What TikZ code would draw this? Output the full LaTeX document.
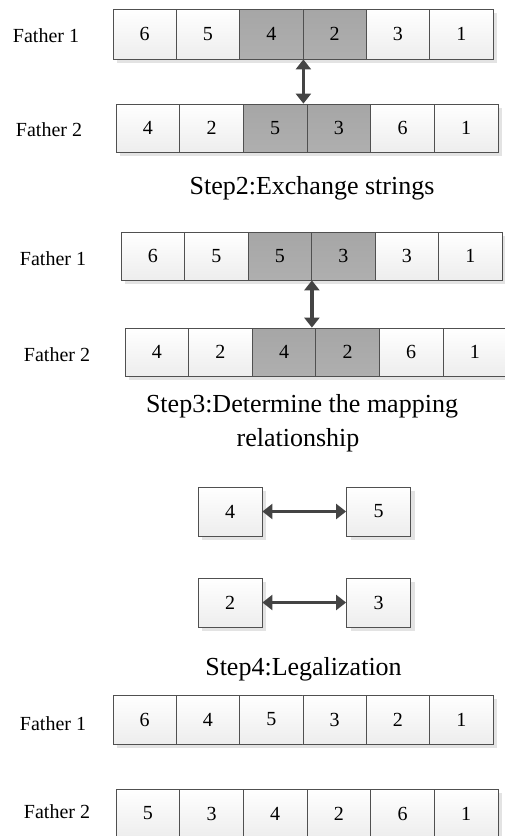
\documentclass[tikz,border=0pt]{standalone}
\usepackage{fontspec}
\setmainfont{Liberation Serif}
\usetikzlibrary{shadows,arrows.meta}
\definecolor{edgegray}{HTML}{505050}
\definecolor{darkcell}{HTML}{A6A6A6}
\definecolor{arrowgray}{HTML}{444444}
\tikzset{
  cellbase/.style={draw=edgegray, line width=0.8pt, inner sep=0pt,
    font=\fontsize{20}{22}\selectfont,
    drop shadow={shadow xshift=4pt, shadow yshift=-4pt, fill=gray!22, opacity=1}},
  wcell/.style={cellbase, top color=white, bottom color=gray!14},
  gcell/.style={cellbase, top color=darkcell, bottom color=darkcell!90!white},
  rowlabel/.style={font=\fontsize{20}{22}\selectfont, inner sep=0pt, anchor=base},
  heading/.style={font=\fontsize{26}{34}\selectfont, inner sep=0pt, anchor=base},
  swaparrow/.style={draw=arrowgray, line width=3.5pt,
    {Triangle[width=15pt,length=10pt]}-{Triangle[width=15pt,length=10pt]}}
}
% #1 name, #2 left x, #3 center y, #4 cell width, #5 cell height, #6 digit/style list
\newcommand\generow[6]{%
  \foreach \d/\s [count=\i] in {#6} {
    \node[\s, minimum width=#4pt, minimum height=#5pt] (#1c\i) at ({#2+(\i-0.5)*#4}, #3) {\d};
  }%
}
\begin{document}
\begin{tikzpicture}[x=1pt,y=-1pt]
\useasboundingbox (0,0) rectangle (504,836);

% Step 1
\node[rowlabel] (l1) at (46,42) {Father 1};
\generow{ra}{113}{34}{63.33}{50}{6/wcell,5/wcell,4/gcell,2/gcell,3/wcell,1/wcell}
\node[rowlabel] (l2) at (49,136) {Father 2};
\generow{rb}{116}{128}{63.67}{48}{4/wcell,2/wcell,5/gcell,3/gcell,6/wcell,1/wcell}
\draw[swaparrow] (rac3.south east) -- (rac3.south east |- rbc3.north);

% Step 2
\node[heading] (h2) at (312,194) {Step2:Exchange strings};
\node[rowlabel] (l3) at (53,265) {Father 1};
\generow{rc}{121}{256}{63.5}{48}{6/wcell,5/wcell,5/gcell,3/gcell,3/wcell,1/wcell}
\node[rowlabel] (l4) at (57,361) {Father 2};
\generow{rd}{125}{352}{63.6}{48}{4/wcell,2/wcell,4/gcell,2/gcell,6/wcell,1/wcell}
\draw[swaparrow] (rcc3.south east) -- (rcc3.south east |- rdc3.north);

% Step 3
\node[heading] (h3a) at (302,412) {Step3:Determine the mapping};
\node[heading] (h3b) at (298,446) {relationship};
\node[wcell, minimum width=64pt, minimum height=49pt] (m4) at (230,511.5) {4};
\node[wcell, minimum width=64pt, minimum height=49pt] (m5) at (378.5,511.5) {5};
\node[wcell, minimum width=64pt, minimum height=49pt] (m2) at (230,602.5) {2};
\node[wcell, minimum width=64pt, minimum height=49pt] (m3) at (378.5,602.5) {3};
\draw[swaparrow] (m4) -- (m5);
\draw[swaparrow] (m2) -- (m3);

% Step 4
\node[heading] (h4) at (303.5,675) {Step4:Legalization};
\node[rowlabel] (l5) at (53,730) {Father 1};
\generow{re}{113}{719.5}{63.33}{49}{6/wcell,4/wcell,5/wcell,3/wcell,2/wcell,1/wcell}
\node[rowlabel] (l6) at (57,818) {Father 2};
\generow{rf}{116}{813.5}{63.67}{49}{5/wcell,3/wcell,4/wcell,2/wcell,6/wcell,1/wcell}
\end{tikzpicture}
\end{document}
